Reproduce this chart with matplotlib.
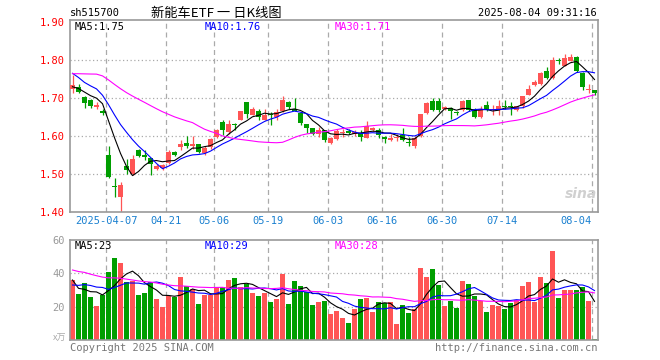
import numpy as np
import matplotlib.pyplot as plt

# ---- data ----
# daily candles 2025-03-27 .. 2025-08-04
open_ = np.array([
    1.725, 1.728, 1.703, 1.695, 1.677, 1.665, 1.550, 1.467, 1.440, 1.521,
    1.499, 1.563, 1.549, 1.541, 1.513, 1.515, 1.528, 1.557, 1.570, 1.582,
    1.575, 1.578, 1.554, 1.571, 1.597, 1.638, 1.610, 1.632, 1.643, 1.690,
    1.656, 1.667, 1.643, 1.658, 1.649, 1.665, 1.690, 1.672, 1.660, 1.632,
    1.621, 1.606, 1.615, 1.582, 1.591, 1.607, 1.613, 1.605, 1.609, 1.596,
    1.617, 1.615, 1.598, 1.589, 1.594, 1.602, 1.584, 1.574, 1.600, 1.660,
    1.691, 1.691, 1.670, 1.674, 1.662, 1.668, 1.694, 1.670, 1.649, 1.681,
    1.668, 1.668, 1.679, 1.679, 1.668, 1.678, 1.709, 1.733, 1.737, 1.770,
    1.753, 1.800, 1.785, 1.798, 1.807, 1.765, 1.720, 1.720])
high = np.array([
    1.760, 1.738, 1.705, 1.697, 1.689, 1.672, 1.573, 1.490, 1.480, 1.539,
    1.550, 1.567, 1.562, 1.543, 1.526, 1.527, 1.562, 1.560, 1.589, 1.599,
    1.601, 1.580, 1.573, 1.596, 1.619, 1.643, 1.643, 1.633, 1.667, 1.690,
    1.677, 1.670, 1.670, 1.664, 1.670, 1.705, 1.693, 1.700, 1.663, 1.632,
    1.622, 1.625, 1.617, 1.597, 1.618, 1.618, 1.618, 1.615, 1.615, 1.640,
    1.625, 1.622, 1.600, 1.604, 1.604, 1.622, 1.597, 1.600, 1.658, 1.689,
    1.700, 1.700, 1.678, 1.676, 1.667, 1.695, 1.696, 1.673, 1.678, 1.691,
    1.681, 1.694, 1.696, 1.690, 1.680, 1.704, 1.733, 1.748, 1.768, 1.781,
    1.809, 1.805, 1.816, 1.816, 1.811, 1.768, 1.737, 1.720])
low = np.array([
    1.713, 1.712, 1.673, 1.673, 1.670, 1.654, 1.490, 1.440, 1.398, 1.500,
    1.497, 1.545, 1.536, 1.498, 1.510, 1.510, 1.526, 1.547, 1.563, 1.569,
    1.567, 1.555, 1.550, 1.567, 1.596, 1.603, 1.606, 1.615, 1.643, 1.648,
    1.654, 1.641, 1.641, 1.630, 1.643, 1.663, 1.671, 1.665, 1.628, 1.608,
    1.603, 1.597, 1.584, 1.580, 1.589, 1.598, 1.605, 1.600, 1.588, 1.594,
    1.613, 1.594, 1.582, 1.586, 1.586, 1.586, 1.575, 1.569, 1.598, 1.658,
    1.665, 1.663, 1.668, 1.645, 1.654, 1.666, 1.665, 1.648, 1.647, 1.665,
    1.655, 1.655, 1.672, 1.655, 1.665, 1.675, 1.709, 1.731, 1.733, 1.750,
    1.750, 1.790, 1.783, 1.797, 1.768, 1.720, 1.713, 1.707])
close = np.array([
    1.733, 1.717, 1.688, 1.678, 1.682, 1.660, 1.493, 1.465, 1.471, 1.511,
    1.539, 1.547, 1.545, 1.526, 1.520, 1.523, 1.558, 1.550, 1.578, 1.575,
    1.580, 1.558, 1.569, 1.591, 1.616, 1.615, 1.632, 1.628, 1.665, 1.658,
    1.670, 1.651, 1.656, 1.654, 1.664, 1.695, 1.676, 1.667, 1.634, 1.622,
    1.606, 1.617, 1.590, 1.594, 1.613, 1.610, 1.607, 1.611, 1.598, 1.626,
    1.621, 1.603, 1.591, 1.596, 1.598, 1.589, 1.582, 1.596, 1.657, 1.686,
    1.669, 1.669, 1.676, 1.665, 1.660, 1.693, 1.668, 1.650, 1.672, 1.668,
    1.671, 1.678, 1.677, 1.677, 1.678, 1.704, 1.723, 1.742, 1.765, 1.753,
    1.800, 1.797, 1.805, 1.809, 1.770, 1.729, 1.722, 1.713])
volume = np.array([
    36, 27.6, 34.4, 25.8, 20.4, 27, 40.8, 49.2, 46.2, 35,
    35.4, 27, 28.2, 34.6, 24.6, 19.8, 26.4, 25.8, 37.8, 32.4,
    30.6, 21.6, 27, 27, 32, 31.6, 36, 37.2, 31.8, 33.6,
    28.2, 26.4, 28.2, 22.8, 24.6, 39.6, 21.6, 35.4, 32.4, 28.8,
    21, 22.8, 23.4, 15.6, 17.4, 13.2, 10.2, 18.6, 24.6, 25.2,
    16.8, 22.8, 22.2, 22.8, 9.6, 21, 16.2, 18.6, 43.2, 37.8,
    42.6, 33, 20.4, 23.4, 19.2, 35.4, 33.6, 26.4, 23.4, 16.8,
    21, 20.4, 18.6, 22.2, 24, 32.4, 34.8, 22.8, 37.8, 34.2,
    53.4, 25.2, 30, 30, 30, 31.8, 23.4, 0.6])

# earlier sessions, not drawn, only needed so the moving averages start where they do
prior_close = np.array([
    1.72, 1.70, 1.69, 1.69, 1.80, 1.81, 1.82, 1.81, 1.82, 1.81,
    1.80, 1.79, 1.78, 1.77, 1.76, 1.76, 1.75, 1.74, 1.73, 1.72,
    1.827, 1.818, 1.768, 1.762, 1.827, 1.74, 1.735, 1.725, 1.715])
prior_volume = np.array([
    55, 50, 58, 48, 52, 54, 50, 53, 51, 50.8,
    44, 40, 43, 41, 42, 40.6, 38, 41, 39, 39.6,
    29.8, 29.8, 31, 30, 29.4, 52.6, 37.4, 32.8, 21.2])

tick_idx = [6, 16, 24, 33, 43, 52, 62, 72, 87]
tick_labels = ['2025-04-07', '04-21', '05-06', '05-19', '06-03',
               '06-16', '06-30', '07-14', '08-04']
price_ticks = [1.40, 1.50, 1.60, 1.70, 1.80, 1.90]
vol_ticks = [20, 40, 60]

RED = '#ff5555'
GREEN = '#009e00'
GRID = '#aaaaaa'
MONO = 'DejaVu Sans Mono'


def moving_avg(prior, values, n):
    full = np.concatenate([prior, values])
    out = np.convolve(full, np.ones(n) / n, mode='valid')
    return out[-len(values):]


x = np.arange(len(close))
col = np.where(close >= open_, RED, GREEN)

W, H = 660, 360
fig = plt.figure(figsize=(6.6, 3.6), dpi=100)


def frac(px, py):
    return px / W, 1 - py / H


ax_p = fig.add_axes([70 / W, 1 - 212 / H, 528 / W, 192 / H])
ax_v = fig.add_axes([70 / W, 1 - 340 / H, 528 / W, 100 / H])

for ax in (ax_p, ax_v):
    ax.set_xlim(-2.5 / 6, 87 + 3.5 / 6)
    for s in ax.spines.values():
        s.set_color('#999999')
        s.set_linewidth(1.2)
    for i in tick_idx:
        ax.axvline(i - 2.5 / 6, color=GRID, lw=0.9, ls=(0, (4, 3)), zorder=0)
    ax.tick_params(length=0)

# price panel
ax_p.set_ylim(1.40, 1.40 + 192 / 380)
for p in price_ticks[1:-1]:
    ax_p.axhline(p, color=GRID, lw=0.9, ls=(0, (1, 2)), zorder=0)
ax_p.vlines(x, low, high, colors=col, lw=0.9, zorder=2)
body = np.maximum(np.abs(close - open_), 0.0025)
ax_p.bar(x, body, bottom=np.minimum(open_, close), width=0.8, color=col,
         linewidth=0, zorder=3)
ax_p.plot(x, moving_avg(prior_close, close, 5), color='black', lw=0.8, zorder=4)
ax_p.plot(x, moving_avg(prior_close, close, 10), color='#0000ff', lw=0.8, zorder=4)
ax_p.plot(x, moving_avg(prior_close, close, 30), color='#ff00ff', lw=0.8, zorder=4)

ax_p.set_yticks(price_ticks)
ax_p.set_yticklabels(['%.2f' % p for p in price_ticks], fontfamily=MONO,
                     fontsize=7.5, color='red')
ax_p.set_xticks([i - 2.5 / 6 for i in tick_idx])
ax_p.set_xticklabels(tick_labels, fontfamily=MONO, fontsize=7.5, color='#1a80d0')
ax_p.tick_params(axis='x', pad=3)
ax_p.tick_params(axis='y', pad=4)
ax_p.get_xticklabels()[-1].set_horizontalalignment('right')

# volume panel
ax_v.set_ylim(0, 60)
for v in vol_ticks[:-1]:
    ax_v.axhline(v, color=GRID, lw=0.9, ls=(0, (1, 2)), zorder=0)
ax_v.bar(x, volume, width=0.83, color=col, linewidth=0, zorder=2)
ax_v.plot(x, moving_avg(prior_volume, volume, 5), color='black', lw=0.8, zorder=4)
ax_v.plot(x, moving_avg(prior_volume, volume, 10), color='#0000ff', lw=0.8, zorder=4)
ax_v.plot(x, moving_avg(prior_volume, volume, 30), color='#ff00ff', lw=0.8, zorder=4)
ax_v.set_yticks(vol_ticks)
ax_v.set_yticklabels([str(v) for v in vol_ticks], fontfamily=MONO,
                     fontsize=7.5, color='#999999')
ax_v.set_xticks([])

# header texts
fig.text(*frac(70, 13), 'sh515700', fontfamily=MONO, fontsize=7.5, va='center')
fig.text(*frac(216, 13), '新能车ETF 一 日K线图', fontfamily=['Noto Sans CJK SC', 'DejaVu Sans'],
         fontsize=9.5, ha='center', va='center')
fig.text(*frac(597, 13), '2025-08-04 09:31:16', fontfamily=MONO, fontsize=7.5,
         ha='right', va='center')

fig.text(*frac(75, 27), 'MA5:1.75', fontfamily=MONO, fontsize=7.5, va='center')
fig.text(*frac(205, 27), 'MA10:1.76', fontfamily=MONO, fontsize=7.5, va='center', color='#0000ff')
fig.text(*frac(335, 27), 'MA30:1.71', fontfamily=MONO, fontsize=7.5, va='center', color='#ff00ff')

fig.text(*frac(75, 246), 'MA5:23', fontfamily=MONO, fontsize=7.5, va='center')
fig.text(*frac(205, 246), 'MA10:29', fontfamily=MONO, fontsize=7.5, va='center', color='#0000ff')
fig.text(*frac(335, 246), 'MA30:28', fontfamily=MONO, fontsize=7.5, va='center', color='#ff00ff')

fig.text(*frac(66, 338), 'x万', fontfamily=['Noto Sans CJK SC', 'DejaVu Sans'],
         fontsize=6.5, ha='right', va='center', color='#aaaaaa')
fig.text(*frac(70, 348), 'Copyright 2025 SINA.COM', fontfamily=MONO, fontsize=7.5,
         va='center', color='#777777')
fig.text(*frac(597, 348), 'http://finance.sina.com.cn', fontfamily=MONO, fontsize=7.5,
         ha='right', va='center', color='#777777')

# watermark
fig.text(*frac(597, 194), 'sina', fontsize=10, fontweight='bold', fontstyle='italic',
         ha='right', va='center', color='#d0d0d0')

fig.savefig('out.png', dpi=100)
